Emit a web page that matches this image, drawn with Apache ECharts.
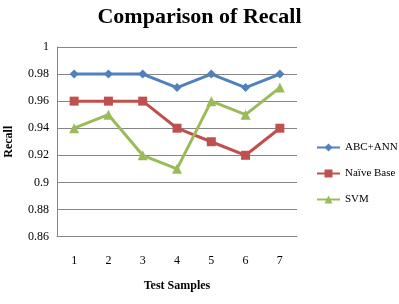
<!DOCTYPE html>
<html><head><meta charset="utf-8">
<script src="https://cdn.jsdelivr.net/npm/echarts@6/dist/echarts.min.js"></script>
<style>html,body{margin:0;padding:0;background:#fff}#c{width:399px;height:304px}</style>
</head><body><div id="c"></div>
<script>
const categories = ['1','2','3','4','5','6','7'];
const abcAnn = [0.98,0.98,0.98,0.97,0.98,0.97,0.98];
const naiveBase = [0.96,0.96,0.96,0.94,0.93,0.92,0.94];
const svm = [0.94,0.95,0.92,0.91,0.96,0.95,0.97];
const seriesNames = ['ABC+ANN','Naïve Base','SVM'];
const font = 'Liberation Serif';
const chart = echarts.init(document.getElementById('c'));
chart.setOption({
  animation:false,
  backgroundColor:'#fff',
  title:{text:'Comparison of Recall',left:'center',top:1,textStyle:{fontFamily:font,fontSize:22,fontWeight:'bold',color:'#000'}},
  grid:{left:57,right:102,top:47,bottom:67.5,outerBoundsMode:'none',containLabel:false},
  legend:{orient:'vertical',left:311,top:137,itemGap:15,itemWidth:23,itemHeight:10,
    textStyle:{fontFamily:font,fontSize:11,color:'#000'},data:seriesNames},
  xAxis:{type:'category',data:categories,boundaryGap:true,
    name:'Test Samples',nameLocation:'middle',nameGap:43,
    nameTextStyle:{fontFamily:font,fontSize:12,fontWeight:'bold',color:'#000'},
    axisLine:{lineStyle:{color:'#868686'}},axisTick:{show:false},
    axisLabel:{fontFamily:font,fontSize:12,color:'#000',margin:18}},
  yAxis:{type:'value',min:0.86,max:1,interval:0.02,
    name:'Recall',nameLocation:'middle',nameGap:42,
    nameTextStyle:{fontFamily:font,fontSize:12,fontWeight:'bold',color:'#000'},
    axisLine:{show:true,lineStyle:{color:'#868686'}},axisTick:{show:false},
    axisLabel:{fontFamily:font,fontSize:12,color:'#000',margin:8,formatter:v=>String(+v.toFixed(2))},
    splitLine:{lineStyle:{color:'#868686'}}},
  series:[
    {name:seriesNames[0],type:'line',data:abcAnn,symbol:'diamond',symbolSize:9,
     lineStyle:{color:'#4F81BD',width:3},itemStyle:{color:'#4F81BD'}},
    {name:seriesNames[1],type:'line',data:naiveBase,symbol:'rect',symbolSize:9,
     lineStyle:{color:'#C0504D',width:3},itemStyle:{color:'#C0504D'}},
    {name:seriesNames[2],type:'line',data:svm,symbol:'triangle',symbolSize:10,
     lineStyle:{color:'#9BBB59',width:3},itemStyle:{color:'#9BBB59'}}
  ]
});
</script></body></html>
